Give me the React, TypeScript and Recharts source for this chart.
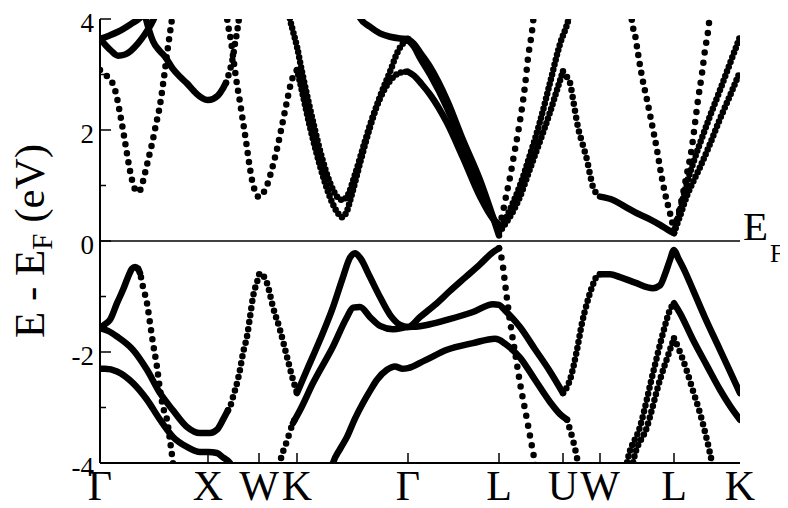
import React from 'react';
import { LineChart, Line, XAxis, YAxis, ReferenceLine } from 'recharts';

// ---- axes ----
const kPathTicks = [0, 1.08, 1.59, 1.97, 3.08, 3.99, 4.63, 5.0, 5.74, 6.4];
const kPathLabels = ['Γ', 'X', 'W', 'K', 'Γ', 'L', 'U', 'W', 'L', 'K'];
const energyTicks = [-4, -3, -2, -1, 0, 1, 2, 3, 4];
const energyLabels = ['-4', '', '-2', '', '0', '', '2', '', '4'];

// ---- conduction bands: [k, E - EF (eV)] ----
const cbGammaXValley = [[0,3.08],[0.05,3.0],[0.10,2.92],[0.14,2.78],[0.17,2.58],[0.20,2.3],[0.23,2.0],[0.26,1.68],[0.29,1.36],[0.32,1.1],[0.35,0.93],[0.38,0.88],[0.41,0.95],[0.44,1.15],[0.48,1.45],[0.52,1.75],[0.56,2.1],[0.60,2.45],[0.64,2.95],[0.68,3.5],[0.72,4.0],[0.74,4.25]];
const cbGammaUp = [[0,3.64],[0.09,3.7],[0.18,3.77],[0.31,3.91],[0.40,4.02],[0.45,4.12]];
const cbGammaDip = [[0,3.64],[0.05,3.54],[0.11,3.43],[0.18,3.34],[0.25,3.36],[0.31,3.43],[0.38,3.56],[0.45,3.73],[0.53,3.97],[0.56,4.1]];
const cbToX = [[0.44,4.15],[0.46,4.0],[0.53,3.6],[0.60,3.42],[0.65,3.32],[0.73,3.1],[0.80,2.96],[0.87,2.84],[0.94,2.7],[1.00,2.6],[1.05,2.55],[1.08,2.54],[1.13,2.56],[1.18,2.62],[1.23,2.75],[1.26,2.85]];
const cbXRise = [[1.26,2.85],[1.28,2.96],[1.30,3.08],[1.33,3.32],[1.35,3.56],[1.37,3.76],[1.39,4.02],[1.40,4.2]];
const cbWValley = [[1.26,4.15],[1.28,3.9],[1.31,3.6],[1.34,3.2],[1.37,2.82],[1.40,2.5],[1.43,2.15],[1.46,1.8],[1.49,1.42],[1.52,1.1],[1.55,0.9],[1.59,0.79],[1.63,0.86],[1.67,1.0],[1.72,1.3],[1.77,1.66],[1.82,2.08],[1.87,2.52],[1.91,2.85],[1.94,3.0],[1.97,3.08]];
const cbKGammaLow = [[1.97,3.08],[2.00,2.86],[2.05,2.45],[2.10,2.05],[2.17,1.55],[2.25,1.05],[2.32,0.7],[2.38,0.5],[2.42,0.43],[2.46,0.5],[2.52,0.85],[2.60,1.4],[2.70,2.05],[2.80,2.6],[2.90,3.05],[2.98,3.42],[3.04,3.58],[3.08,3.62]];
const cbKGammaHigh = [[1.89,4.1],[1.90,4.0],[1.93,3.78],[1.97,3.5],[2.02,3.05],[2.08,2.55],[2.15,2.0],[2.22,1.5],[2.30,1.05],[2.37,0.8],[2.42,0.74],[2.47,0.8],[2.55,1.2],[2.65,1.8],[2.75,2.35],[2.85,2.75],[2.95,2.98],[3.02,3.04],[3.08,3.05]];
const cbKGammaTop = [[2.57,4.15],[2.60,4.02],[2.70,3.86],[2.80,3.74],[2.90,3.68],[3.00,3.65],[3.08,3.64]];
const cbGammaL1 = [[3.08,3.64],[3.14,3.55],[3.20,3.4],[3.30,3.14],[3.47,2.54],[3.63,1.82],[3.80,1.1],[3.93,0.43],[3.99,0.1]];
const cbGammaL2 = [[3.08,3.62],[3.14,3.5],[3.20,3.3],[3.30,3.0],[3.47,2.4],[3.63,1.7],[3.80,0.98],[3.93,0.42],[3.99,0.2]];
const cbGammaL3 = [[3.08,3.05],[3.14,2.98],[3.22,2.82],[3.30,2.64],[3.47,2.13],[3.63,1.5],[3.80,0.8],[3.93,0.4],[3.99,0.3]];
const cbLUSteep = [[3.99,0.25],[4.02,0.45],[4.06,0.8],[4.10,1.15],[4.14,1.55],[4.18,1.95],[4.22,2.4],[4.25,2.8],[4.28,3.3],[4.32,3.78],[4.34,4.1]];
const cbLUPeak = [[3.99,0.15],[4.05,0.3],[4.12,0.5],[4.20,0.8],[4.30,1.3],[4.40,1.8],[4.50,2.32],[4.58,2.78],[4.63,3.06]];
const cbUWFall = [[4.63,3.06],[4.66,2.98],[4.70,2.85],[4.74,2.45],[4.78,2.05],[4.83,1.72],[4.87,1.46],[4.90,1.2],[4.93,0.97],[4.97,0.85],[5.00,0.8]];
const cbWLFlat = [[5.00,0.8],[5.13,0.74],[5.25,0.62],[5.37,0.5],[5.50,0.39],[5.60,0.29],[5.68,0.2],[5.74,0.14]];
const cbLUTop = [[3.99,0.2],[4.05,0.38],[4.12,0.65],[4.20,1.0],[4.30,1.55],[4.40,2.15],[4.50,2.85],[4.60,3.55],[4.68,3.96],[4.70,4.1]];
const cbWLSteep = [[5.31,4.15],[5.32,3.95],[5.35,3.72],[5.38,3.38],[5.42,2.96],[5.47,2.54],[5.52,2.1],[5.57,1.64],[5.61,1.22],[5.65,0.86],[5.70,0.5],[5.74,0.2]];
const cbLKSteep = [[5.74,0.2],[5.80,0.61],[5.87,1.22],[5.92,1.7],[5.95,2.12],[5.98,2.54],[6.02,3.02],[6.05,3.44],[6.08,3.77],[6.10,4.1]];
const cbLK1 = [[5.74,0.15],[5.80,0.55],[5.87,1.05],[5.94,1.45],[6.00,1.76],[6.10,2.25],[6.20,2.72],[6.30,3.2],[6.40,3.68]];
const cbLK2 = [[5.74,0.15],[5.80,0.45],[5.87,0.82],[5.94,1.1],[6.00,1.33],[6.10,1.75],[6.20,2.2],[6.30,2.62],[6.40,3.05]];

// ---- valence bands ----
const vbGammaRise = [[0,-1.57],[0.05,-1.5],[0.10,-1.42],[0.17,-1.12],[0.23,-0.88],[0.28,-0.65],[0.32,-0.5],[0.35,-0.47],[0.38,-0.5],[0.40,-0.58]];
const vbGammaFall = [[0.38,-0.5],[0.40,-0.58],[0.43,-0.83],[0.47,-1.12],[0.50,-1.48],[0.53,-1.84],[0.57,-2.27],[0.60,-2.68],[0.63,-2.99],[0.67,-3.22],[0.70,-3.59],[0.73,-4.0],[0.75,-4.3]];
const vbGammaX = [[0,-1.57],[0.08,-1.62],[0.17,-1.72],[0.33,-1.96],[0.47,-2.32],[0.60,-2.74],[0.73,-3.05],[0.87,-3.35],[1.00,-3.46],[1.10,-3.46],[1.17,-3.40],[1.23,-3.22],[1.28,-3.05]];
const vbXWK = [[1.28,-3.05],[1.30,-2.99],[1.33,-2.81],[1.37,-2.56],[1.40,-2.32],[1.43,-2.02],[1.47,-1.72],[1.50,-1.37],[1.53,-1.01],[1.57,-0.74],[1.60,-0.58],[1.63,-0.62],[1.67,-0.76],[1.73,-1.19],[1.80,-1.6],[1.87,-2.09],[1.93,-2.5],[1.97,-2.74]];
const vbKGammaL = [[1.97,-2.74],[2.07,-2.32],[2.20,-1.78],[2.33,-1.19],[2.43,-0.65],[2.50,-0.3],[2.55,-0.22],[2.60,-0.3],[2.70,-0.65],[2.80,-1.01],[2.90,-1.33],[3.00,-1.51],[3.08,-1.55],[3.20,-1.37],[3.35,-1.15],[3.50,-0.9],[3.65,-0.66],[3.80,-0.42],[3.93,-0.2],[3.99,-0.13]];
const vbLUSteep = [[3.99,-0.13],[4.02,-0.35],[4.06,-0.9],[4.10,-1.45],[4.15,-2.0],[4.20,-2.56],[4.27,-3.22],[4.35,-4.0],[4.37,-4.2]];
const vbKSteep = [[1.78,-4.2],[1.80,-4.0],[1.87,-3.6],[1.93,-3.28],[1.97,-3.15]];
const vbMiddle = [[1.93,-3.28],[2.00,-3.05],[2.13,-2.56],[2.33,-1.9],[2.47,-1.37],[2.53,-1.2],[2.60,-1.19],[2.70,-1.37],[2.80,-1.53],[2.93,-1.59],[3.08,-1.55],[3.18,-1.54],[3.30,-1.5],[3.47,-1.42],[3.73,-1.28],[3.93,-1.14],[3.99,-1.15],[4.05,-1.25],[4.20,-1.55],[4.35,-1.95],[4.50,-2.35],[4.63,-2.74]];
const vbUWRise = [[4.63,-2.74],[4.70,-2.5],[4.77,-1.96],[4.82,-1.48],[4.87,-1.12],[4.92,-0.83],[4.97,-0.63],[5.00,-0.6]];
const vbWLK = [[5.00,-0.6],[5.10,-0.6],[5.20,-0.65],[5.35,-0.75],[5.53,-0.85],[5.60,-0.8],[5.65,-0.6],[5.70,-0.34],[5.74,-0.16],[5.78,-0.3],[5.85,-0.55],[5.93,-0.88],[6.05,-1.38],[6.20,-1.96],[6.30,-2.35],[6.40,-2.74]];
const vbLower = [[2.30,-4.2],[2.33,-4.0],[2.40,-3.75],[2.47,-3.53],[2.55,-3.2],[2.63,-2.92],[2.70,-2.7],[2.77,-2.5],[2.87,-2.32],[2.95,-2.26],[3.02,-2.3],[3.08,-2.29],[3.25,-2.15],[3.47,-1.96],[3.73,-1.84],[3.95,-1.76],[3.99,-1.78],[4.05,-1.85],[4.20,-2.1],[4.35,-2.5],[4.50,-2.9],[4.60,-3.12],[4.67,-3.22]];
const vbLowerU = [[4.67,-3.22],[4.70,-3.4],[4.73,-3.59],[4.78,-4.0],[4.80,-4.2]];
const vbDeepGX = [[0,-2.3],[0.05,-2.3],[0.17,-2.35],[0.33,-2.56],[0.47,-2.86],[0.60,-3.22],[0.73,-3.53],[0.87,-3.71],[1.00,-3.8],[1.08,-3.8],[1.17,-3.82],[1.23,-3.9],[1.30,-4.0],[1.32,-4.15]];
const vbWLRise1 = [[5.25,-4.2],[5.27,-4.0],[5.40,-3.35],[5.53,-2.38],[5.63,-1.66],[5.70,-1.24],[5.74,-1.12]];
const vbWLRise2 = [[5.31,-4.2],[5.33,-4.0],[5.47,-3.35],[5.60,-2.5],[5.70,-1.96],[5.74,-1.75]];
const vbLK1 = [[5.74,-1.12],[5.80,-1.3],[5.93,-1.78],[6.07,-2.25],[6.20,-2.68],[6.30,-2.97],[6.40,-3.22]];
const vbLK2 = [[5.74,-1.75],[5.80,-2.0],[5.87,-2.35],[5.93,-2.7],[6.00,-3.1],[6.07,-3.59],[6.12,-4.0],[6.14,-4.2]];

// dot spacing along each piece (0 = dense, drawn continuous)
const pieces: [number[][], number][] = [
  [cbGammaXValley, 9], [cbGammaUp, 0], [cbGammaDip, 0], [cbToX, 0], [cbXRise, 8],
  [cbWValley, 9], [cbKGammaLow, 5], [cbKGammaHigh, 5], [cbKGammaTop, 0],
  [cbGammaL1, 0], [cbGammaL2, 0], [cbGammaL3, 0],
  [cbLUSteep, 10], [cbLUPeak, 5], [cbUWFall, 7], [cbWLFlat, 0], [cbLUTop, 5],
  [cbWLSteep, 9], [cbLKSteep, 10], [cbLK1, 5], [cbLK2, 5],
  [vbGammaRise, 0], [vbGammaFall, 9], [vbGammaX, 0], [vbXWK, 7], [vbKGammaL, 0],
  [vbLUSteep, 10], [vbKSteep, 8], [vbMiddle, 0], [vbUWRise, 6], [vbWLK, 0],
  [vbLower, 0], [vbLowerU, 8], [vbDeepGX, 0], [vbWLRise1, 6], [vbWLRise2, 6],
  [vbLK1, 0], [vbLK2, 7],
];

const FONT = "'Liberation Serif', 'Times New Roman', 'DejaVu Serif', serif";
const fontStyle = { fontFamily: FONT };

const labelFor = (v: number) => {
  let best = 0;
  kPathTicks.forEach((t, i) => { if (Math.abs(t - v) < Math.abs(kPathTicks[best] - v)) best = i; });
  return best;
};

const BottomTick = (p: any) => {
  const i = labelFor(p.payload.value);
  const edge = i === 0 || i === kPathTicks.length - 1;
  return (
    <g>
      {!edge && <line x1={p.x} y1={p.y} x2={p.x} y2={p.y - 10} stroke="#000" strokeWidth={1.5} />}
      <text x={p.x} y={p.y + 37} textAnchor="middle" style={fontStyle} fontFamily={FONT} fontSize={42} fill="#000">{kPathLabels[i]}</text>
    </g>
  );
};
const TopTick = (p: any) => {
  const i = labelFor(p.payload.value);
  const edge = i === 0 || i === kPathTicks.length - 1;
  return edge ? <g /> : <line x1={p.x} y1={p.y} x2={p.x} y2={p.y + 10} stroke="#000" strokeWidth={1.5} />;
};
const LeftTick = (p: any) => {
  const i = energyTicks.indexOf(p.payload.value);
  const major = energyLabels[i] !== '';
  return (
    <g>
      <line x1={p.x} y1={p.y} x2={p.x + (major ? 11 : 6)} y2={p.y} stroke="#000" strokeWidth={1.5} />
      {major && <text x={p.x - 6} y={p.y + 13} textAnchor="end" style={fontStyle} fontFamily={FONT} fontSize={27} fill="#000">{energyLabels[i]}</text>}
    </g>
  );
};
const RightTick = (p: any) => {
  const i = energyTicks.indexOf(p.payload.value);
  const major = energyLabels[i] !== '';
  return <line x1={p.x} y1={p.y} x2={p.x - (major ? 9 : 6)} y2={p.y} stroke="#000" strokeWidth={1.5} />;
};

const YTitle = () => (
  <text x={36} y={233} transform="rotate(-90 36 233)" textAnchor="middle" style={fontStyle} fontFamily={FONT} fontSize={43} fill="#000">
    E - E<tspan fontSize={29} dy={8}>F</tspan><tspan dy={-8}> (eV)</tspan>
  </text>
);
const EFLabel = () => (
  <text x={735} y={232} style={fontStyle} fontFamily={FONT} fontSize={41} fill="#000">
    E<tspan fontSize={25} dx={2} dy={22}>F</tspan>
  </text>
);

export default function App() {
  return (
    <LineChart width={780} height={500} margin={{ top: 11, right: 48, bottom: 0, left: 0 }} style={fontStyle}>
      <XAxis xAxisId={0} dataKey="k" type="number" domain={[0, 6.4]} ticks={kPathTicks} interval={0}
        allowDataOverflow height={45} tickSize={0} tickMargin={0} tickLine={false}
        axisLine={{ stroke: '#000', strokeWidth: 2 }} tick={(p: any) => <BottomTick {...p} />} />
      <XAxis xAxisId="top" orientation="top" dataKey="k" type="number" domain={[0, 6.4]} ticks={kPathTicks} interval={0}
        allowDataOverflow height={0} tickSize={0} tickMargin={0} tickLine={false}
        axisLine={{ stroke: '#000', strokeWidth: 2 }} tick={(p: any) => <TopTick {...p} />} />
      <YAxis yAxisId={0} type="number" domain={[-4, 4]} ticks={energyTicks} interval={0} allowDataOverflow
        width={92} tickSize={0} tickMargin={0} tickLine={false}
        axisLine={{ stroke: '#000', strokeWidth: 2 }} tick={(p: any) => <LeftTick {...p} />} label={() => <YTitle />} />
      <YAxis yAxisId="right" orientation="right" type="number" domain={[-4, 4]} ticks={energyTicks} interval={0} allowDataOverflow
        width={0} tickSize={0} tickMargin={0} tickLine={false}
        axisLine={{ stroke: '#000', strokeWidth: 2 }} tick={(p: any) => <RightTick {...p} />} />
      <ReferenceLine xAxisId={0} yAxisId={0} y={0} stroke="#000" strokeWidth={1.5} label={() => <EFLabel />} />
      {pieces.map(([pts, gap], idx) => (
        <Line key={idx} xAxisId={0} yAxisId={0} data={pts.map(([k, e]) => ({ k, e }))} dataKey="e" type="monotone"
          stroke="#000" strokeWidth={6.5} strokeLinecap="round" strokeLinejoin="round"
          strokeDasharray={gap ? `0 ${gap}` : undefined}
          dot={false} activeDot={false} isAnimationActive={false} legendType="none" />
      ))}
    </LineChart>
  );
}
